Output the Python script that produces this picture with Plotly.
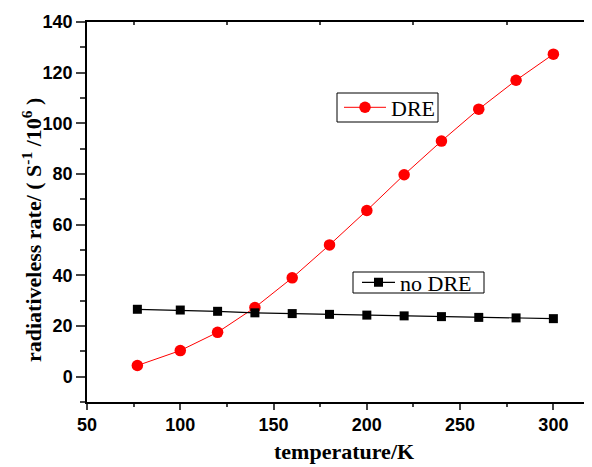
import plotly.graph_objects as go

temps = [77, 100, 120, 140, 160, 180, 200, 220, 240, 260, 280, 300]
dre = [4.4, 10.3, 17.5, 27.3, 39.0, 52.0, 65.6, 79.7, 93.0, 105.6, 117.0, 127.3]
no_dre = [26.6, 26.3, 25.8, 25.2, 24.9, 24.6, 24.3, 24.0, 23.7, 23.4, 23.2, 22.9]

x_ticks = [50, 100, 150, 200, 250, 300]
y_ticks = [0, 20, 40, 60, 80, 100, 120, 140]

# page has an 8px body margin, so the figure is drawn offset by 8px
OFF = 8
W, H = 592 - OFF, 467 - OFF
ml, mr, mt, mb = 87 - OFF, 0, 22 - OFF, 65
pw, ph = W - ml - mr, H - mt - mb


def px(x):  # absolute page pixel -> paper x
    return (x - 87) / pw


def py(y):  # absolute page pixel -> paper y
    return 1 - (y - 22) / ph


fig = go.Figure()
fig.add_trace(go.Scatter(
    x=temps, y=dre, mode="lines+markers", name="DRE",
    line=dict(color="#ff0000", width=1),
    marker=dict(symbol="circle", size=11.5, color="#ff0000"),
    legend="legend"))
fig.add_trace(go.Scatter(
    x=temps, y=no_dre, mode="lines+markers", name="no DRE",
    line=dict(color="#000000", width=1.2),
    marker=dict(symbol="square", size=9, color="#000000"),
    legend="legend2"))
# dummy trace for top axis
fig.add_trace(go.Scatter(x=[None], y=[None], xaxis="x2", showlegend=False))

tickfont = dict(family="Liberation Sans, Arial", size=18, color="black", weight="bold")
serif = "Liberation Serif, Times New Roman"
fig.update_layout(
    width=W, height=H,
    margin=dict(l=ml, r=mr, t=mt, b=mb),
    paper_bgcolor="white", plot_bgcolor="white",
    xaxis=dict(range=[50, 320.7], tickvals=x_ticks, ticks="outside", ticklen=6,
               tickwidth=1.5, showline=True, linewidth=1.5, linecolor="black",
               showgrid=False, zeroline=False, tickfont=tickfont, automargin=False,
               minor=dict(tickvals=[75, 125, 175, 225, 275], ticks="outside", ticklen=3, tickwidth=1.5,
                          showgrid=False)),
    xaxis2=dict(range=[50, 320.7], overlaying="x", side="top", showline=True, linewidth=1.5,
                linecolor="black", tickvals=[75, 125, 175, 225, 275], ticks="inside", ticklen=3,
                tickwidth=1.5, showticklabels=False, showgrid=False, zeroline=False, automargin=False),
    yaxis=dict(range=[-10, 140], tickvals=y_ticks, ticks="outside", ticklen=9, tickwidth=1.5,
               showline=True, linewidth=1.5, linecolor="black", showgrid=False, zeroline=False,
               tickfont=tickfont, automargin=False,
               minor=dict(tickvals=[-10, 10, 30, 50, 70, 90, 110, 130], ticks="outside", ticklen=5,
                          tickwidth=1.5, showgrid=False)),
    legend=dict(x=px(339), y=py(107.5), xanchor="left", yanchor="middle",
                bgcolor="rgba(0,0,0,0)", borderwidth=0,
                font=dict(family=serif, size=22, color="black"),
                itemwidth=42, tracegroupgap=0),
    legend2=dict(x=px(357), y=py(282.5), xanchor="left", yanchor="middle",
                 bgcolor="rgba(0,0,0,0)", borderwidth=0,
                 font=dict(family=serif, size=22, color="black"),
                 itemwidth=33, tracegroupgap=0),
    shapes=[
        dict(type="rect", xref="paper", yref="paper", x0=px(337), x1=px(438), y0=py(122), y1=py(93),
             line=dict(color="black", width=1), fillcolor="white", layer="below"),
        dict(type="rect", xref="paper", yref="paper", x0=px(353), x1=px(484), y0=py(293), y1=py(272),
             line=dict(color="black", width=1), fillcolor="white", layer="below"),
    ],
    annotations=[
        dict(text="<b>temperature/K</b>", xref="paper", yref="paper", x=px(344), y=py(466),
             xanchor="center", yanchor="bottom", showarrow=False,
             font=dict(family=serif, size=22, color="black")),
        dict(text="<b>radiativeless rate/ ( S<sup>-1</sup> /10<sup>6</sup> )</b>", xref="paper",
             yref="paper", x=px(32), y=py(230), xanchor="center", yanchor="middle", textangle=-90,
             showarrow=False, font=dict(family=serif, size=22, color="black")),
    ],
)

fig.write_html("out.html")
